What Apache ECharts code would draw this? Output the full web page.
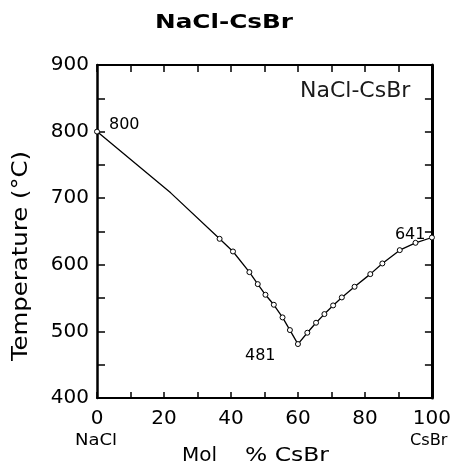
<!DOCTYPE html>
<html><head><meta charset="utf-8">
<script src="https://cdn.jsdelivr.net/npm/echarts@6/dist/echarts.min.js"></script>
<style>html,body{margin:0;padding:0;background:#fff}#c{width:454px;height:470px}</style>
</head><body><div id="c"></div>
<script>
var molPct = [0, 22, 36.6, 40.6, 45.5, 48.0, 50.3, 52.8, 55.4, 57.6, 60.0, 62.8, 65.4, 67.9, 70.5, 73.1, 76.9, 81.6, 85.2, 90.4, 95.1, 100];
var tempC  = [800, 708, 639, 620, 589, 571, 555, 540, 521, 502, 481, 498, 513, 526, 539, 551, 567, 586, 602, 622, 633, 641];
var marked = [true, false, true, true, true, true, true, true, true, true, true, true, true, true, true, true, true, true, true, true, true, true];
var xTicks = [0, 20, 40, 60, 80, 100];
var yTicks = [400, 500, 600, 700, 800, 900];
var labelled = {0: [15, -12], 10: [-50, 7], 21: [-34, -8]};

var F = 'DejaVu Sans, Verdana, sans-serif';
var data = molPct.map(function (x, i) {
  var item = { value: [x, tempC[i]] };
  if (!marked[i]) item.symbol = 'none';
  if (labelled[i] !== undefined) {
    item.label = { show: true, formatter: String(tempC[i]), color: '#000', fontFamily: F,
      fontSize: 16, position: labelled[i] };
  }
  return item;
});

var chart = echarts.init(document.getElementById('c'));
chart.setOption({
  backgroundColor: '#fff',
  animation: false,
  grid: { left: 97, right: 20, top: 65, bottom: 72 },
  xAxis: [
    { type: 'value', min: 0, max: 100, interval: 10, position: 'bottom',
      axisLine: { onZero: false, lineStyle: { color: '#000', width: 2 } },
      axisTick: { inside: true, length: 6, lineStyle: { color: '#000', width: 1.5 } },
      axisLabel: { fontFamily: F, fontSize: 20, color: '#000', margin: 11,
        formatter: function (v) { return xTicks.indexOf(v) >= 0 ? String(v) : ''; } },
      splitLine: { show: false } },
    { type: 'value', min: 0, max: 100, interval: 10, position: 'top',
      axisLine: { onZero: false, lineStyle: { color: '#000', width: 2 } },
      axisTick: { inside: true, length: 7, lineStyle: { color: '#000', width: 1.5 } },
      axisLabel: { show: false }, splitLine: { show: false } }
  ],
  yAxis: [
    { type: 'value', min: 400, max: 900, interval: 50, position: 'left',
      axisLine: { show: true, onZero: false, lineStyle: { color: '#000', width: 2.5 } },
      axisTick: { inside: true, length: 8, lineStyle: { color: '#000', width: 1.5 } },
      axisLabel: { fontFamily: F, fontSize: 20, color: '#000', margin: 8,
        formatter: function (v) { return yTicks.indexOf(v) >= 0 ? String(v) : ''; } },
      splitLine: { show: false } },
    { type: 'value', min: 400, max: 900, interval: 50, position: 'right',
      axisLine: { show: true, onZero: false, lineStyle: { color: '#000', width: 3 } },
      axisTick: { inside: true, length: 7, lineStyle: { color: '#000', width: 1.5 } },
      axisLabel: { show: false }, splitLine: { show: false } }
  ],
  graphic: [
    { type: 'text', x: 155, y: 14, scaleX: 1.3, style: { text: 'NaCl-CsBr', fontFamily: F, fontWeight: 'bold', fontSize: 19, fill: '#000' } },
    { type: 'text', x: 300, y: 80, style: { text: 'NaCl-CsBr', fontFamily: F, fontSize: 22, fill: '#1a1a1a' } },
    { type: 'text', x: 22, y: 256, rotation: Math.PI / 2, scaleX: 1.16,
      style: { text: 'Temperature (°C)', fontFamily: F, fontSize: 21, fill: '#000', align: 'center', verticalAlign: 'middle' } },
    { type: 'text', x: 75, y: 434, scaleX: 1.2, style: { text: 'NaCl', fontFamily: F, fontSize: 15, fill: '#000' } },
    { type: 'text', x: 410, y: 434, scaleX: 1.08, style: { text: 'CsBr', fontFamily: F, fontSize: 15, fill: '#000' } },
    { type: 'text', x: 182, y: 446, style: { text: 'Mol', fontFamily: F, fontSize: 20, fill: '#000' } },
    { type: 'text', x: 245, y: 446, scaleX: 1.17, style: { text: '% CsBr', fontFamily: F, fontSize: 20, fill: '#000' } }
  ],
  series: [{
    type: 'line', data: data, xAxisIndex: 0, yAxisIndex: 0,
    symbol: 'circle', symbolSize: 5, showAllSymbol: true,
    lineStyle: { color: '#000', width: 1.3 },
    itemStyle: { color: '#fff', borderColor: '#000', borderWidth: 1 },
    emphasis: { disabled: true }
  }]
});
</script></body></html>
